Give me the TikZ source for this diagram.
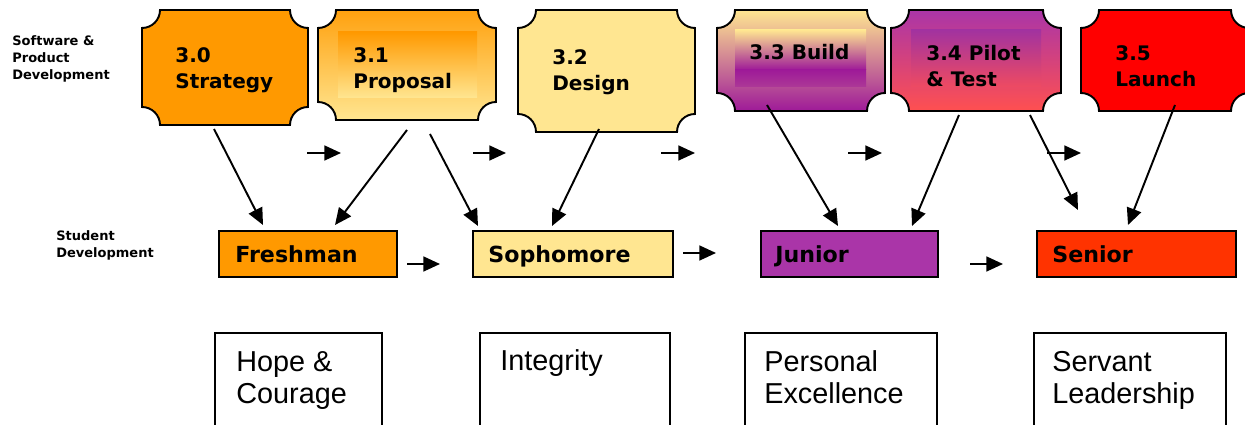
\documentclass[tikz,border=0pt]{standalone}
\usepackage{fontspec}
\setmainfont{Liberation Sans}
\newfontfamily\phasefont{DejaVu Sans}
\usetikzlibrary{arrows.meta}

\definecolor{stratorange}{HTML}{FF9900}
\definecolor{paleyellow}{HTML}{FFE691}
\definecolor{buildpurple}{HTML}{9E1A98}
\definecolor{juniorpurple}{HTML}{AA35A8}
\definecolor{pilotpink}{HTML}{FF5050}
\definecolor{seniorred}{HTML}{FF3300}
\definecolor{launchred}{HTML}{FF0000}

% box with scooped corners: style, left, top, right, bottom (pixels, y down)
\newcommand{\cornerrad}{18}
\newcommand{\plaquebox}[5]{%
  \path[#1] ({#2+\cornerrad},{-#3}) -- ({#4-\cornerrad},{-#3})
    arc[start angle=180,end angle=270,radius=\cornerrad] -- ({#4},{-#5+\cornerrad})
    arc[start angle=90,end angle=180,radius=\cornerrad] -- ({#2+\cornerrad},{-#5})
    arc[start angle=0,end angle=90,radius=\cornerrad] -- ({#2},{-#3-\cornerrad})
    arc[start angle=270,end angle=360,radius=\cornerrad] -- cycle;}

\tikzset{
  phase/.style={draw=black, line width=1.1pt},
  phasetext/.style={font=\phasefont\bfseries\fontsize{11.4}{15.3}\selectfont,
    align=left, anchor=base west, inner sep=0pt},
  studbox/.style={draw=black, line width=1.1pt},
  studtext/.style={font=\phasefont\bfseries\fontsize{12.6}{15}\selectfont,
    anchor=base west, inner sep=0pt},
  sidetext/.style={font=\phasefont\bfseries\fontsize{7.4}{9.9}\selectfont,
    align=left, anchor=base west, inner sep=0pt},
  valuebox/.style={draw=black, line width=0.8pt},
  valuetext/.style={font=\fontsize{16.4}{18.7}\selectfont,
    align=left, anchor=base west, inner sep=0pt},
  flow/.style={line width=1.1pt, -{Triangle[length=9.5pt,width=8.5pt]}}
}

\begin{document}
\begin{tikzpicture}[x=0.02cm, y=0.02cm]
  \clip (0,0) rectangle (1245,-425);

  % software & product development (multi-line text sits on its last line)
  \node[sidetext] (swlabel) at (12,-80) {Software \&\\Product\\Development};
  \plaquebox{phase, fill=stratorange}{142}{10}{308}{125}
  \plaquebox{phase, top color=stratorange!90!paleyellow, bottom color=paleyellow}{318}{10}{496}{120}
  \shade[top color=stratorange, bottom color=paleyellow] (338,-32) rectangle (477,-98);
  \plaquebox{phase, fill=paleyellow}{518}{10}{695}{132}
  \plaquebox{phase, top color=paleyellow, bottom color=buildpurple}{717}{10}{885}{111}
  \shade[top color=paleyellow, bottom color=buildpurple] (735,-30) rectangle (866,-70);
  \shade[top color=buildpurple, bottom color=buildpurple!85!paleyellow] (735,-70) rectangle (866,-87);
  \plaquebox{phase, top color=juniorpurple, bottom color=pilotpink}{891}{10}{1061}{111}
  \shade[top color=juniorpurple!95!black, bottom color=pilotpink!80!juniorpurple] (911,-30) rectangle (1041,-87);
  \plaquebox{phase, fill=launchred}{1081}{10}{1249}{111}

  \node[phasetext] (p30) at (175,-89) {3.0\\Strategy};
  \node[phasetext] (p31) at (353,-89) {3.1\\Proposal};
  \node[phasetext] (p32) at (552,-91) {3.2\\Design};
  \node[phasetext] (p33) at (749,-60) {3.3 Build};
  \node[phasetext] (p34) at (926,-87) {3.4 Pilot\\\& Test};
  \node[phasetext] (p35) at (1115,-87) {3.5\\Launch};

  % student development
  \node[sidetext] (stlabel) at (56,-258) {Student\\Development};
  \draw[studbox, fill=stratorange] (219,-231) rectangle (397,-277);
  \draw[studbox, fill=paleyellow] (473,-231) rectangle (673,-277);
  \draw[studbox, fill=juniorpurple] (761,-231) rectangle (938,-277);
  \draw[studbox, fill=seniorred] (1037,-231) rectangle (1236,-277);
  \node[studtext] (fresh) at (235,-263) {Freshman};
  \node[studtext] (soph) at (488,-263) {Sophomore};
  \node[studtext] (junior) at (775,-263) {Junior};
  \node[studtext] (senior) at (1052,-263) {Senior};

  % values
  \draw[valuebox] (215,-440) |- (382,-333) -- (382,-440);
  \draw[valuebox] (480,-440) |- (670,-333) -- (670,-440);
  \draw[valuebox] (745,-440) |- (937,-333) -- (937,-440);
  \draw[valuebox] (1034,-440) |- (1226,-333) -- (1226,-440);
  \node[valuetext] (hope) at (236,-404) {Hope \&\\Courage};
  \node[valuetext] (integ) at (500,-371) {Integrity};
  \node[valuetext] (excel) at (764,-404) {Personal\\Excellence};
  \node[valuetext] (servant) at (1052,-404) {Servant\\Leadership};

  % phase -> student arrows
  \foreach \xa/\ya/\xb/\yb [count=\i] in {214/129/263/225, 407/130/335/225,
      430/134/478/226, 599/129/552/226, 767/105/838/226, 959/115/912/226,
      1030/115/1078/210, 1175/105/1128/225} {
    \coordinate (d\i a) at (\xa,-\ya);
    \coordinate (d\i b) at (\xb,-\yb);
    \draw[flow] (d\i a) -- (d\i b);
  }
  % sequence arrows
  \foreach \xa/\xb/\y [count=\i] in {307/341/153, 473/506/153, 661/695/153,
      848/882/153, 1047/1081/153, 407/440/264, 683/716/253, 970/1003/264} {
    \coordinate (h\i a) at (\xa,-\y);
    \coordinate (h\i b) at (\xb,-\y);
    \draw[flow] (h\i a) -- (h\i b);
  }
\end{tikzpicture}
\end{document}
